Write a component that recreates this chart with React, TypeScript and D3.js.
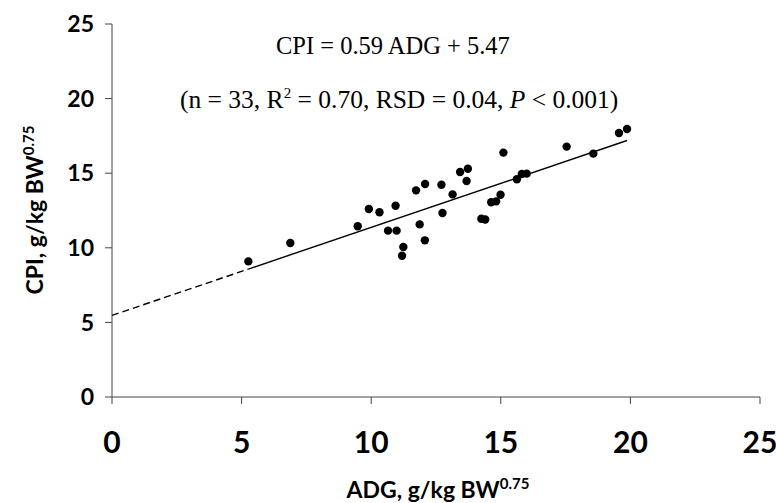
import React from "react";
import * as d3 from "d3";

// Observed ADG (g/kg BW^0.75) and CPI (g/kg BW^0.75) per animal group
const adg = [
  5.26, 6.88, 9.48, 9.91, 10.32, 10.94, 10.65, 10.98, 11.24, 11.19, 11.73,
  12.08, 11.87, 12.07, 12.71, 13.14, 12.75, 13.43, 13.73, 13.68, 14.25, 14.4,
  14.63, 14.82, 14.99, 15.1, 15.62, 15.81, 16.0, 17.54, 18.57, 19.56, 19.87,
];
const cpi = [
  9.09, 10.32, 11.44, 12.6, 12.38, 12.82, 11.15, 11.15, 10.05, 9.47, 13.85,
  14.28, 11.57, 10.5, 14.23, 13.58, 12.33, 15.08, 15.3, 14.48, 11.95, 11.9,
  13.05, 13.11, 13.56, 16.38, 14.59, 14.95, 14.97, 16.78, 16.31, 17.69, 17.96,
];

const xTicks = [0, 5, 10, 15, 20, 25];
const yTicks = [0, 5, 10, 15, 20, 25];

// Fitted regression: CPI = slope * ADG + intercept
const slope = 0.59;
const intercept = 5.47;

const W = 776;
const H = 503;
const sans = "Lato, 'Open Sans', sans-serif";
const serif = "'Liberation Serif', 'Times New Roman', serif";

export default function App() {
  const x = d3.scaleLinear().domain([0, 25]).range([112, 760]);
  const y = d3.scaleLinear().domain([0, 25]).range([397, 24]);

  const xMin = d3.min(adg) as number;
  const xMax = d3.max(adg) as number;
  const fit = (v: number) => slope * v + intercept;
  const line = d3
    .line<number>()
    .x((d) => x(d))
    .y((d) => y(fit(d)));

  return (
    <svg
      width={W}
      height={H}
      style={{ position: "absolute", left: 0, top: 0, background: "#fff" }}
    >
      {/* axes */}
      <line x1={x(0)} y1={y(0)} x2={x(25)} y2={y(0)} stroke="#444" strokeWidth={1} />
      <line x1={x(0)} y1={y(0)} x2={x(0)} y2={y(25)} stroke="#444" strokeWidth={1} />
      {xTicks.map((t) => (
        <g key={"xt" + t}>
          <line x1={x(t)} x2={x(t)} y1={y(0)} y2={y(0) + 7} stroke="#444" strokeWidth={1} />
          <text
            x={x(t)}
            y={453}
            textAnchor="middle"
            fontFamily={sans}
            fontWeight={700}
            fontSize={30}
            fill="#000"
          >
            {t}
          </text>
        </g>
      ))}
      {yTicks.map((t) => (
        <g key={"yt" + t}>
          <line x1={x(0) - 7} x2={x(0)} y1={y(t)} y2={y(t)} stroke="#444" strokeWidth={1} />
          <text
            x={94}
            y={y(t)}
            dy="0.36em"
            textAnchor="end"
            fontFamily={sans}
            fontWeight={700}
            fontSize={23}
            fill="#000"
          >
            {t}
          </text>
        </g>
      ))}

      {/* axis titles */}
      <text
        x={438}
        y={498}
        textAnchor="middle"
        fontFamily={sans}
        fontWeight={700}
        fontSize={23}
        fill="#000"
      >
        ADG, g/kg BW
        <tspan dy={-9} fontSize={15}>
          0.75
        </tspan>
      </text>
      <text
        transform="translate(43,210) rotate(-90)"
        textAnchor="middle"
        fontFamily={sans}
        fontWeight={700}
        fontSize={23}
        fill="#000"
      >
        CPI, g/kg BW
        <tspan dy={-9} fontSize={15}>
          0.75
        </tspan>
      </text>

      {/* regression: dashed extrapolation to zero, solid over the data range */}
      <path
        d={line([0, xMin]) ?? ""}
        fill="none"
        stroke="#000"
        strokeWidth={1.4}
        strokeDasharray="7,4"
      />
      <path d={line([xMin, xMax]) ?? ""} fill="none" stroke="#000" strokeWidth={1.4} />

      {/* observations */}
      {adg.map((a, i) => (
        <circle key={i} cx={x(a)} cy={y(cpi[i])} r={4.2} fill="#000" />
      ))}

      {/* equation and statistics */}
      <text x={276} y={54} fontFamily={serif} fontSize={24.5} fill="#000">
        CPI = 0.59 ADG + 5.47
      </text>
      <text x={180} y={108} fontFamily={serif} fontSize={25.5} fill="#000">
        (n = 33, R
        <tspan dy={-10} fontSize={15}>
          2
        </tspan>
        <tspan dy={10}> = 0.70, RSD = 0.04, </tspan>
        <tspan fontStyle="italic">P</tspan>
        <tspan> &lt; 0.001)</tspan>
      </text>
    </svg>
  );
}
